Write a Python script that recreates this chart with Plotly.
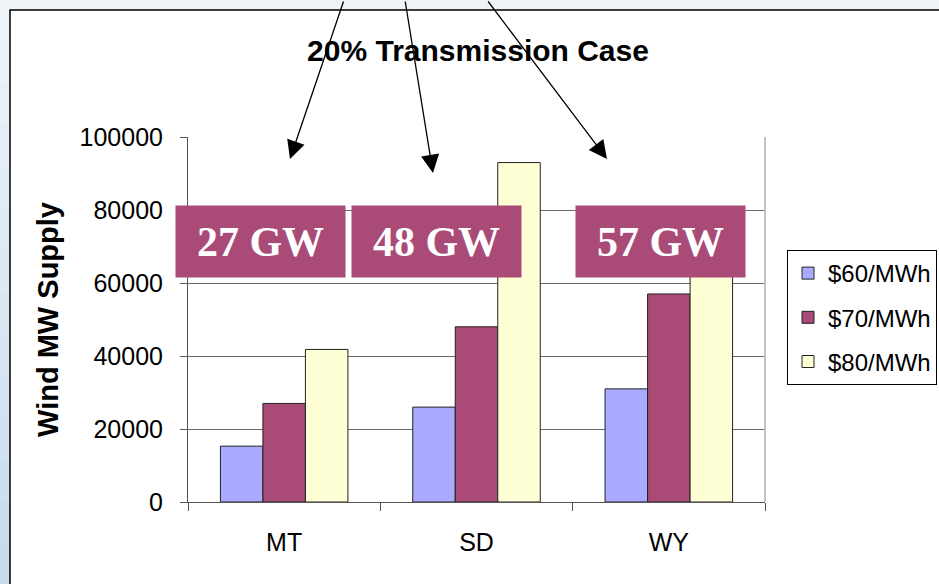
import plotly.graph_objects as go

# Wind supply by state and price level
states = ["MT", "SD", "WY"]
price_levels = ["$60/MWh", "$70/MWh", "$80/MWh"]
supply_60 = [15300, 26000, 31000]
supply_70 = [27000, 48000, 57000]
supply_80 = [41800, 93000, 66000]
y_ticks = [0, 20000, 40000, 60000, 80000, 100000]

bar_colors = ["#AAAAFF", "#AA4A76", "#FFFFD5"]
series = [supply_60, supply_70, supply_80]

W, H = 939, 584
L, R, T, B = 188, 765, 137, 502  # plot area in pixels


def px(x):
    return (x - L) / (R - L)


def py(y):
    return (B - y) / (B - T)


fig = go.Figure()
for name, vals, col in zip(price_levels, series, bar_colors):
    fig.add_trace(go.Bar(
        x=states, y=vals, name=name, legendgroup=name,
        marker=dict(color=col, line=dict(color="#222222", width=1)),
    ))

shapes = []
# page background: pale blue strip on the left, white panel with black edge
strip_top = (238, 243, 248)
strip_bot = (200, 220, 238)
n = 14
for i in range(n):
    t = i / (n - 1)
    c = tuple(round(a + (b - a) * t) for a, b in zip(strip_top, strip_bot))
    y0 = H * i / n
    y1 = H * (i + 1) / n
    shapes.append(dict(type="rect", xref="paper", yref="paper", layer="below",
                       x0=px(-5), x1=px(10), y0=py(y1 + 1), y1=py(y0),
                       fillcolor="rgb(%d,%d,%d)" % c, line=dict(width=0)))
shapes.append(dict(type="rect", xref="paper", yref="paper", layer="below",
                   x0=px(10), x1=px(W + 10), y0=py(H + 10), y1=py(10),
                   fillcolor="white", line=dict(color="black", width=1.5)))
# right edge of plot area
shapes.append(dict(type="line", xref="paper", yref="paper",
                   x0=1, x1=1, y0=0, y1=1,
                   line=dict(color="#c4c4c4", width=2)))

annotations = []
# value callouts above each state
box_centers = [260.5, 436.5, 660.5]
for cx, v in zip(box_centers, supply_70):
    annotations.append(dict(
        xref="paper", yref="paper", x=px(cx), y=py(241.5),
        text="<b>%d GW</b>" % round(v / 1000), showarrow=False,
        width=169, height=71, borderpad=0, bgcolor="#AA4A76",
        font=dict(family="Liberation Serif", size=42, color="white"),
        xanchor="center", yanchor="middle",
    ))

# arrows pointing down into the chart
arrow_heads = [(290, 159), (433, 173), (607, 159)]
arrow_tails = [(344, -20), (405, -20), (487, -20)]
for (hx, hy), (tx, ty) in zip(arrow_heads, arrow_tails):
    annotations.append(dict(
        xref="paper", yref="paper", x=px(hx), y=py(hy),
        text="", showarrow=True, axref="pixel", ayref="pixel",
        ax=tx - hx, ay=ty - hy,
        arrowhead=2, arrowsize=2.8, arrowwidth=1.3, arrowcolor="black",
        standoff=0, startstandoff=0,
    ))

fig.update_layout(
    width=W, height=H,
    margin=dict(l=L, r=W - R, t=T, b=H - B, pad=0, autoexpand=False),
    paper_bgcolor="#eef3f8",
    plot_bgcolor="white",
    barmode="group", bargap=0.337, bargroupgap=0,
    font=dict(family="Liberation Sans", size=25, color="black"),
    title=dict(text="<b>20% Transmission Case</b>", x=px(478), xref="paper",
               y=1 - 50 / H, yref="container", xanchor="center", yanchor="middle",
               font=dict(size=30, family="Liberation Sans", color="black")),
    xaxis=dict(type="category", tickson="boundaries", ticks="outside", ticklen=8,
               tickcolor="#555555", showline=True, linecolor="#555555",
               showgrid=False, ticklabelstandoff=18,
               tickfont=dict(size=25)),
    yaxis=dict(range=[0, 100000], tickvals=y_ticks, tickformat="d",
               ticks="outside", ticklen=7, tickcolor="#555555",
               showline=True, linecolor="#555555", zeroline=False,
               showgrid=True, gridcolor="#6a6a6a", gridwidth=1,
               ticklabelstandoff=12, tickfont=dict(size=25),
               title=dict(text="<b>Wind MW Supply</b>", standoff=12,
                          font=dict(size=29))),
    legend=dict(x=px(937), y=py(250), xanchor="right", yanchor="top",
                bordercolor="black", borderwidth=1, bgcolor="white",
                font=dict(size=24), tracegroupgap=10, itemwidth=30,
                traceorder="grouped"),
    shapes=shapes,
    annotations=annotations,
)

fig.write_html("out.html")
